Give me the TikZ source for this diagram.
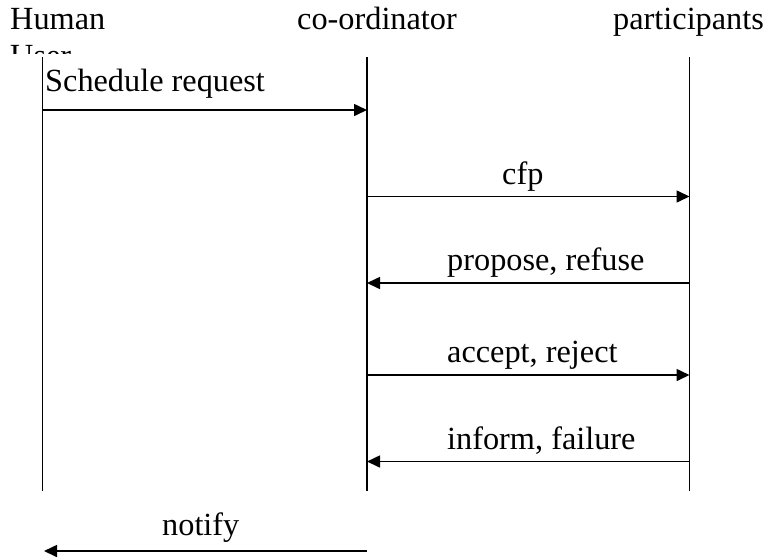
\documentclass[tikz,border=0pt]{standalone}
\usepackage{fontspec}
\setmainfont{Liberation Serif}
\usetikzlibrary{arrows.meta}
\tikzset{
  lifeline/.style={line width=1.6pt},
  msg/.style={line width=1.6pt, -{Triangle[length=13pt,width=12pt]}},
  lbl/.style={anchor=base west, inner sep=0pt, font=\fontsize{32.3}{37}\selectfont}
}
\begin{document}
\begin{tikzpicture}[x=1pt,y=-1pt]
\useasboundingbox (0,0) rectangle (765,558);

% role headings
\node[lbl] (hHuman) at (10,29.5) {Human};
\begin{scope}
  \clip (0,40) rectangle (120,53.5);
  \node[lbl] (hUser) at (10,66.5) {User};
\end{scope}
\node[lbl] (hCoord) at (297,29.5) {co-ordinator};
\node[lbl] (hPart) at (613,29.5) {participants};

% lifelines
\coordinate (uTop) at (42.5,57);   \coordinate (uBot) at (42.5,491);
\coordinate (cTop) at (367,57);    \coordinate (cBot) at (367,491);
\coordinate (pTop) at (689.5,57);  \coordinate (pBot) at (689.5,491);
\draw[lifeline] (uTop) -- (uBot);
\draw[lifeline] (cTop) -- (cBot);
\draw[lifeline] (pTop) -- (pBot);

% message anchor points
\coordinate (u1) at (42.5,110);  \coordinate (c1) at (367,110);
\coordinate (c2) at (367,196.5); \coordinate (p2) at (689.5,196.5);
\coordinate (c3) at (367,283);   \coordinate (p3) at (689.5,283);
\coordinate (c4) at (367,375);   \coordinate (p4) at (689.5,375);
\coordinate (c5) at (367,461.5); \coordinate (p5) at (689.5,461.5);
\coordinate (c6) at (367,551);   \coordinate (u6) at (44,551);

% messages
\draw[msg] (u1) -- (c1);
\draw[msg] (c2) -- (p2);
\draw[msg] (p3) -- (c3);
\draw[msg] (c4) -- (p4);
\draw[msg] (p5) -- (c5);
\draw[msg] (c6) -- (u6);

% message labels
\node[lbl] (mSched) at (45,91) {Schedule request};
\node[lbl] (mCfp) at (502,184) {cfp};
\node[lbl] (mProp) at (447,270) {propose, refuse};
\node[lbl] (mAcc) at (447,362.5) {accept, reject};
\node[lbl] (mInf) at (447,449) {inform, failure};
\node[lbl] (mNot) at (162,535) {notify};
\end{tikzpicture}
\end{document}
